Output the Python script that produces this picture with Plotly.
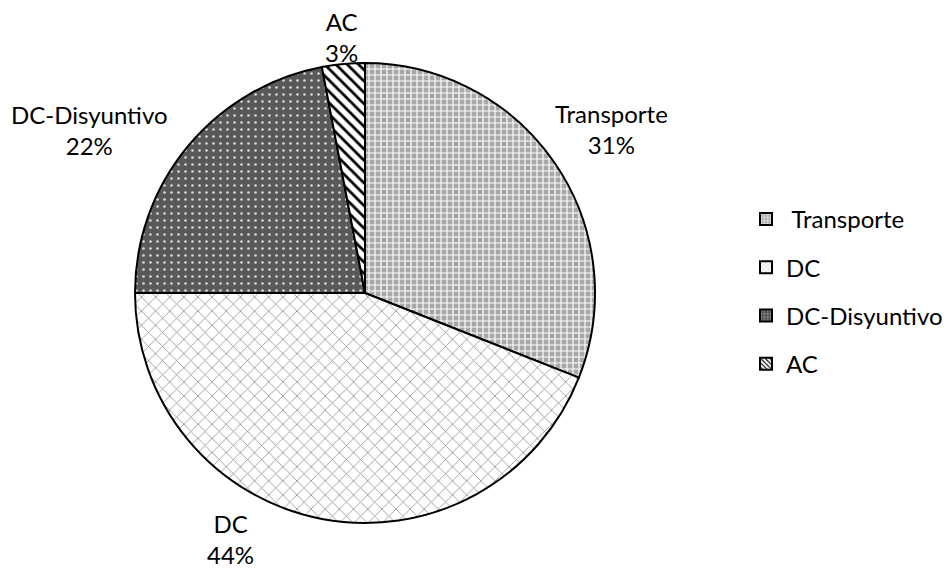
import plotly.graph_objects as go

categories = ["Transporte", "DC", "DC-Disyuntivo", "AC"]
values = [31, 44, 22, 3]
legend_labels = [" Transporte", "DC", "DC-Disyuntivo", "AC"]

# styling
shapes = ["+", "x", ".", "\\"]
bgcolors = ["#a8a8a8", "#ffffff", "#595959", "#ffffff"]
fgcolors = ["#ffffff", "#8a8a8a", "#d6d6d6", "#000000"]
sizes = [6, 10, 7, 8]
solidities = [0.35, 0.15, 0.12, 0.35]

FONT = "Lato"
FS = 24
W, H = 950, 572

# layout in page pixels
cx, cy, r = 365, 293, 230
label_px = [(611, 129), (230, 539), (89, 130), (341, 37)]
legend_cy = 291.5
legend_left = 746


def px_x(x):
    return x / W


def px_y(y):
    return 1 - y / H


fig = go.Figure()
fig.add_trace(go.Pie(
    labels=categories,
    values=values,
    sort=False,
    direction="clockwise",
    rotation=0,
    textinfo="none",
    marker=dict(
        colors=bgcolors,
        line=dict(color="#000000", width=2),
        pattern=dict(shape=shapes, bgcolor=bgcolors, fgcolor=fgcolors,
                     size=sizes, solidity=solidities, fillmode="replace"),
    ),
    domain=dict(x=[px_x(cx - r), px_x(cx + r)], y=[px_y(cy + r), px_y(cy - r)]),
    showlegend=False,
    hoverinfo="label+percent",
))

# legend entries (empty bars carrying the same fills)
for i, name in enumerate(legend_labels):
    fig.add_trace(go.Bar(
        x=[None], y=[None], name=name, legendgroup=f"g{i}",
        marker=dict(color=bgcolors[i], line=dict(color="#000000", width=1.5),
                    pattern=dict(shape=shapes[i], bgcolor=bgcolors[i],
                                 fgcolor=fgcolors[i], size=4, solidity=solidities[i],
                                 fillmode="replace")),
        showlegend=True, hoverinfo="skip",
    ))

total = sum(values)
annotations = []
for cat, v, (lx, ly) in zip(categories, values, label_px):
    annotations.append(dict(
        x=px_x(lx), y=px_y(ly), xref="paper", yref="paper",
        xanchor="center", yanchor="middle", align="center",
        text=f"{cat}<br>{round(100 * v / total)}%", showarrow=False,
        font=dict(family=FONT, size=FS, color="#000000"),
    ))

fig.update_layout(
    width=W, height=H,
    margin=dict(l=0, r=0, t=0, b=0),
    paper_bgcolor="white",
    plot_bgcolor="white",
    font=dict(family=FONT, size=FS, color="#000000"),
    xaxis=dict(visible=False),
    yaxis=dict(visible=False),
    annotations=annotations,
    legend=dict(
        x=px_x(legend_left), y=px_y(legend_cy), xanchor="left", yanchor="middle",
        font=dict(family=FONT, size=FS, color="#000000"),
        tracegroupgap=14, itemsizing="constant",
    ),
)

fig.write_html("out.html", config={"displayModeBar": False},
               post_script="document.body.style.margin='0px';")
